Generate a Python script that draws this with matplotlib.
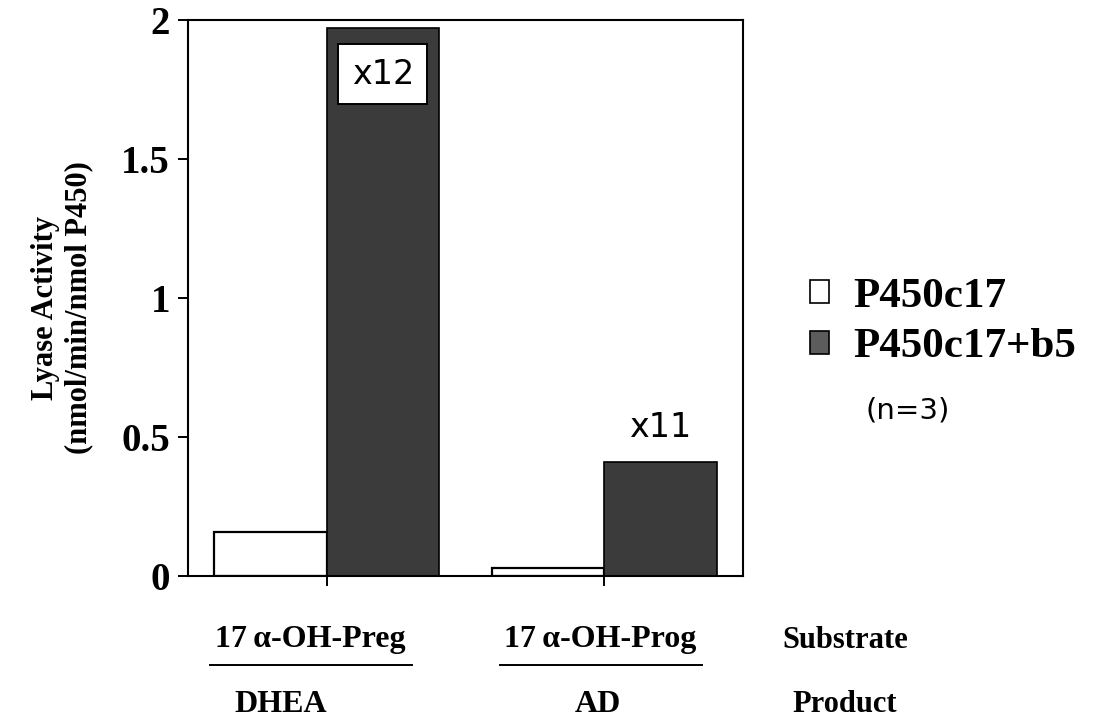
import numpy as np
import matplotlib
matplotlib.use("Agg")
import matplotlib.pyplot as plt

# values
groups = ["17\u2009\u03b1-OH-Preg", "17\u2009\u03b1-OH-Prog"]
products = ["DHEA", "AD"]
series = ["P450c17", "P450c17+b5"]
p450 = [0.158, 0.03]
p450_b5 = [1.97, 0.41]
fold = ["x12", "x11"]
yticks = [0, 0.5, 1, 1.5, 2]
ytick_labels = ["0", "0.5", "1", "1.5", "2"]

W, H = 1101, 721
serif = ["Liberation Serif", "DejaVu Serif"]

fig = plt.figure(figsize=(W / 100, H / 100), dpi=100)
ax = fig.add_axes([188 / W, 1 - 576 / H, 555 / W, 556 / H])

x = np.arange(len(groups))
bw = 0.405
b1 = ax.bar(x - bw / 2, p450, bw, color="white", edgecolor="black", linewidth=1.6, label=series[0])
b2 = ax.bar(x + bw / 2, p450_b5, bw, color="#3b3b3b", edgecolor="black", linewidth=1.2, label=series[1])

ax.set_xlim(-0.5, 1.5)
ax.set_ylim(0, 2)
ax.set_xticks(x)
ax.set_xticklabels([])
ax.set_yticks(yticks)
ax.set_yticklabels(ytick_labels, fontfamily=serif, fontweight="bold", fontsize=28)
ax.tick_params(direction="out", length=7, width=1.4, pad=6)
for s in ax.spines.values():
    s.set_linewidth(1.5)

# fold-change labels
ax.text(x[0] + bw / 2, p450_b5[0] - 0.165, fold[0], ha="center", va="center", fontsize=24,
        family="DejaVu Sans",
        bbox=dict(boxstyle="square,pad=0.4", facecolor="white", edgecolor="black", linewidth=1.4))
ax.text(x[1] + bw / 2, p450_b5[1] + 0.09, fold[1], ha="center", va="baseline", fontsize=24,
        family="DejaVu Sans")

# y label
fig.text(62 / W, 1 - 308 / H, "Lyase Activity\n(nmol/min/nmol P450)", rotation=90,
         ha="center", va="center", family=serif, fontweight="bold", fontsize=22,
         linespacing=1.2)

# substrate / product rows
sub_x = [310, 600]
prod_x = [281, 598]
for i in range(len(groups)):
    fig.text(sub_x[i] / W, 1 - 640 / H, groups[i], ha="center", va="center",
             family=serif, fontweight="bold", fontsize=23)
    fig.text(prod_x[i] / W, 1 - 705 / H, products[i], ha="center", va="center",
             family=serif, fontweight="bold", fontsize=23)
    fig.add_artist(plt.Line2D([(sub_x[i] - 100) / W, (sub_x[i] + 102) / W],
                              [1 - 665 / H, 1 - 665 / H], color="black", linewidth=1.4))
fig.text(845 / W, 1 - 640 / H, "Substrate", ha="center", va="center",
         family=serif, fontweight="bold", fontsize=22)
fig.text(845 / W, 1 - 705 / H, "Product", ha="center", va="center",
         family=serif, fontweight="bold", fontsize=22)

# legend
leg = fig.legend(handles=[b1, b2], labels=series, loc="center left",
                 bbox_to_anchor=(810 / W, 1 - 322 / H), bbox_transform=fig.transFigure,
                 frameon=False, handlelength=0.45, handleheight=0.45, handletextpad=0.55,
                 labelspacing=0.3, borderpad=0, borderaxespad=0,
                 prop=dict(family=serif, weight="bold", size=31))
for h in leg.legend_handles:
    h.set_linewidth(1.2)
leg.legend_handles[1].set_facecolor("#5c5c5c")
fig.text(908 / W, 1 - 410 / H, "(n=3)", ha="center", va="center", family="DejaVu Sans", fontsize=21)

fig.savefig("out.png", dpi=100)
